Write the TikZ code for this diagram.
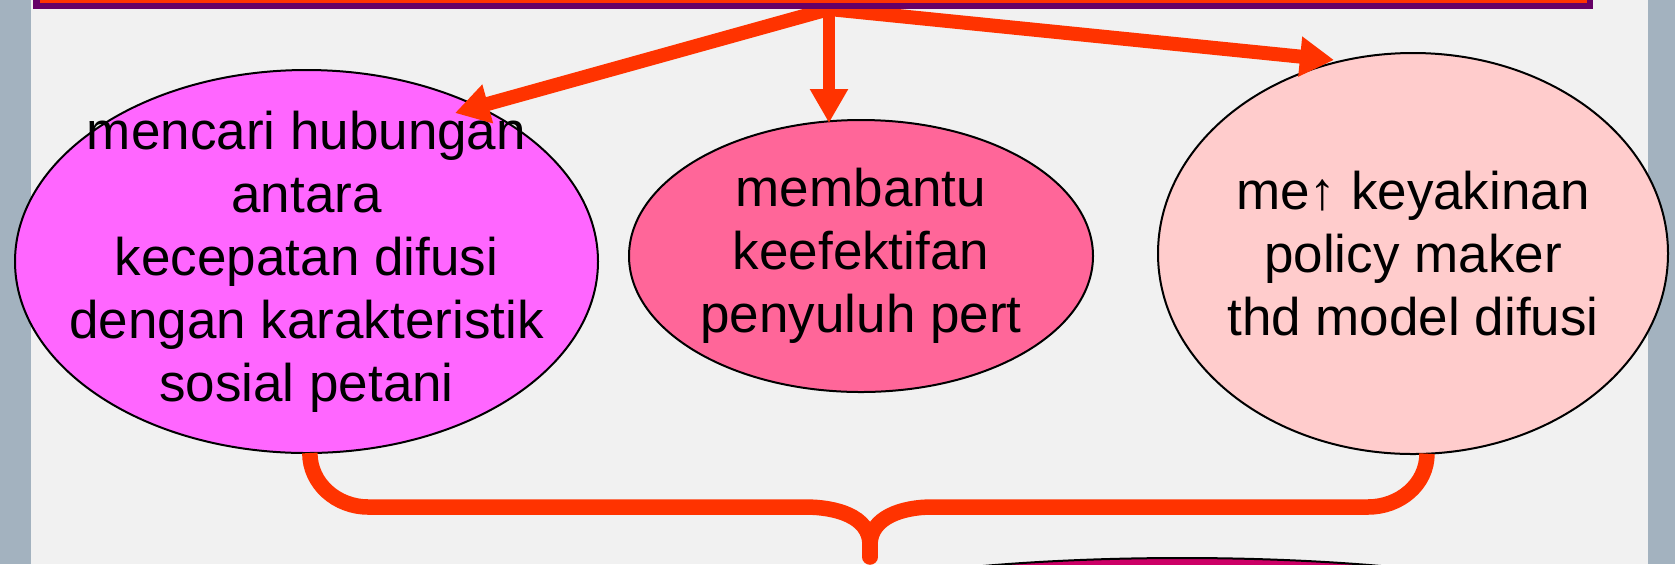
\documentclass[tikz,border=0pt]{standalone}
\usepackage{fontspec}
\setmainfont{Liberation Sans}
\usetikzlibrary{shapes.geometric,arrows.meta}
\definecolor{arrowred}{HTML}{FF3300}
\definecolor{topborder}{HTML}{660066}
\definecolor{bgcol}{HTML}{F1F1F1}
\definecolor{stripcol}{HTML}{A3B2BF}
\definecolor{fillL}{HTML}{FF66FF}
\definecolor{fillM}{HTML}{FF6699}
\definecolor{fillR}{HTML}{FFCCCC}
\definecolor{fillB}{HTML}{CC0066}
\tikzset{
  ell/.style={ellipse, draw=black, line width=1pt, inner sep=0pt, outer sep=0pt},
  txt/.style={font=\fontsize{26.5pt}{31.5pt}\selectfont, align=center, inner sep=0pt, text=black},
  arr/.style={draw=arrowred, line width=7pt, -{Triangle[length=17pt,width=19pt]}},
  marr/.style={draw=arrowred, line width=6pt, -{Triangle[length=17pt,width=18pt]}},
  bracestyle/.style={draw=arrowred, line width=7.75pt},
}
\begin{document}
\begin{tikzpicture}[x=0.5pt,y=-0.5pt]
\useasboundingbox (0,0) rectangle (1675,564);
\clip (0,0) rectangle (1675,564);
\fill[bgcol] (0,0) rectangle (1675,564);
\fill[stripcol] (0,0) rectangle (31,564);
\fill[stripcol] (1648,0) rectangle (1675,564);

% bottom ellipse (mostly off-page)
\node[ell, fill=fillB, minimum width=420pt, minimum height=67pt] (bot) at (1182,625) {};

% ellipses
\node[ell, fill=fillL, minimum width=291.5pt, minimum height=191.5pt,
  label={[txt]center:{mencari hubungan\\antara\\kecepatan difusi\\dengan karakteristik\\sosial petani}}] (left) at (306.5,261.5) {};
\node[ell, fill=fillM, minimum width=232pt, minimum height=136pt,
  label={[txt]center:{membantu\\keefektifan\\penyuluh pert}}] (mid) at (861,256) {};
\node[ell, fill=fillR, minimum width=255pt, minimum height=200.5pt,
  label={[txt]center:{me↑ keyakinan\\policy maker\\thd model difusi}}] (right) at (1413,253.5) {};

% brace
\coordinate (stem) at (870,545);
\coordinate (stemend) at (870,557);
\draw[bracestyle] (left.-89) to[out=-90,in=180] (368,507) -- (805,507) to[out=0,in=90] (stem);
\draw[bracestyle] (right.-86) to[out=-90,in=0] (1368,507) -- (932,507) to[out=180,in=90] (stem);
\draw[bracestyle, line cap=round] (stem) -- (stemend);

% arrows
\coordinate (apex) at (829,9);
\coordinate (tipL) at (455,113);
\coordinate (tipM) at (829,123);
\coordinate (tipR) at (1334,60);
\draw[arr] (apex) -- (tipL);
\draw[arr] (apex) -- (tipR);
\draw[marr] (apex) -- (tipM);

% top bar (cut off by the page edge)
\node[draw=topborder, fill=arrowred, line width=3.25pt, minimum width=776.75pt,
  minimum height=33pt, inner sep=0pt, outer sep=0pt] (top) at (813,-27) {};
\end{tikzpicture}
\end{document}
